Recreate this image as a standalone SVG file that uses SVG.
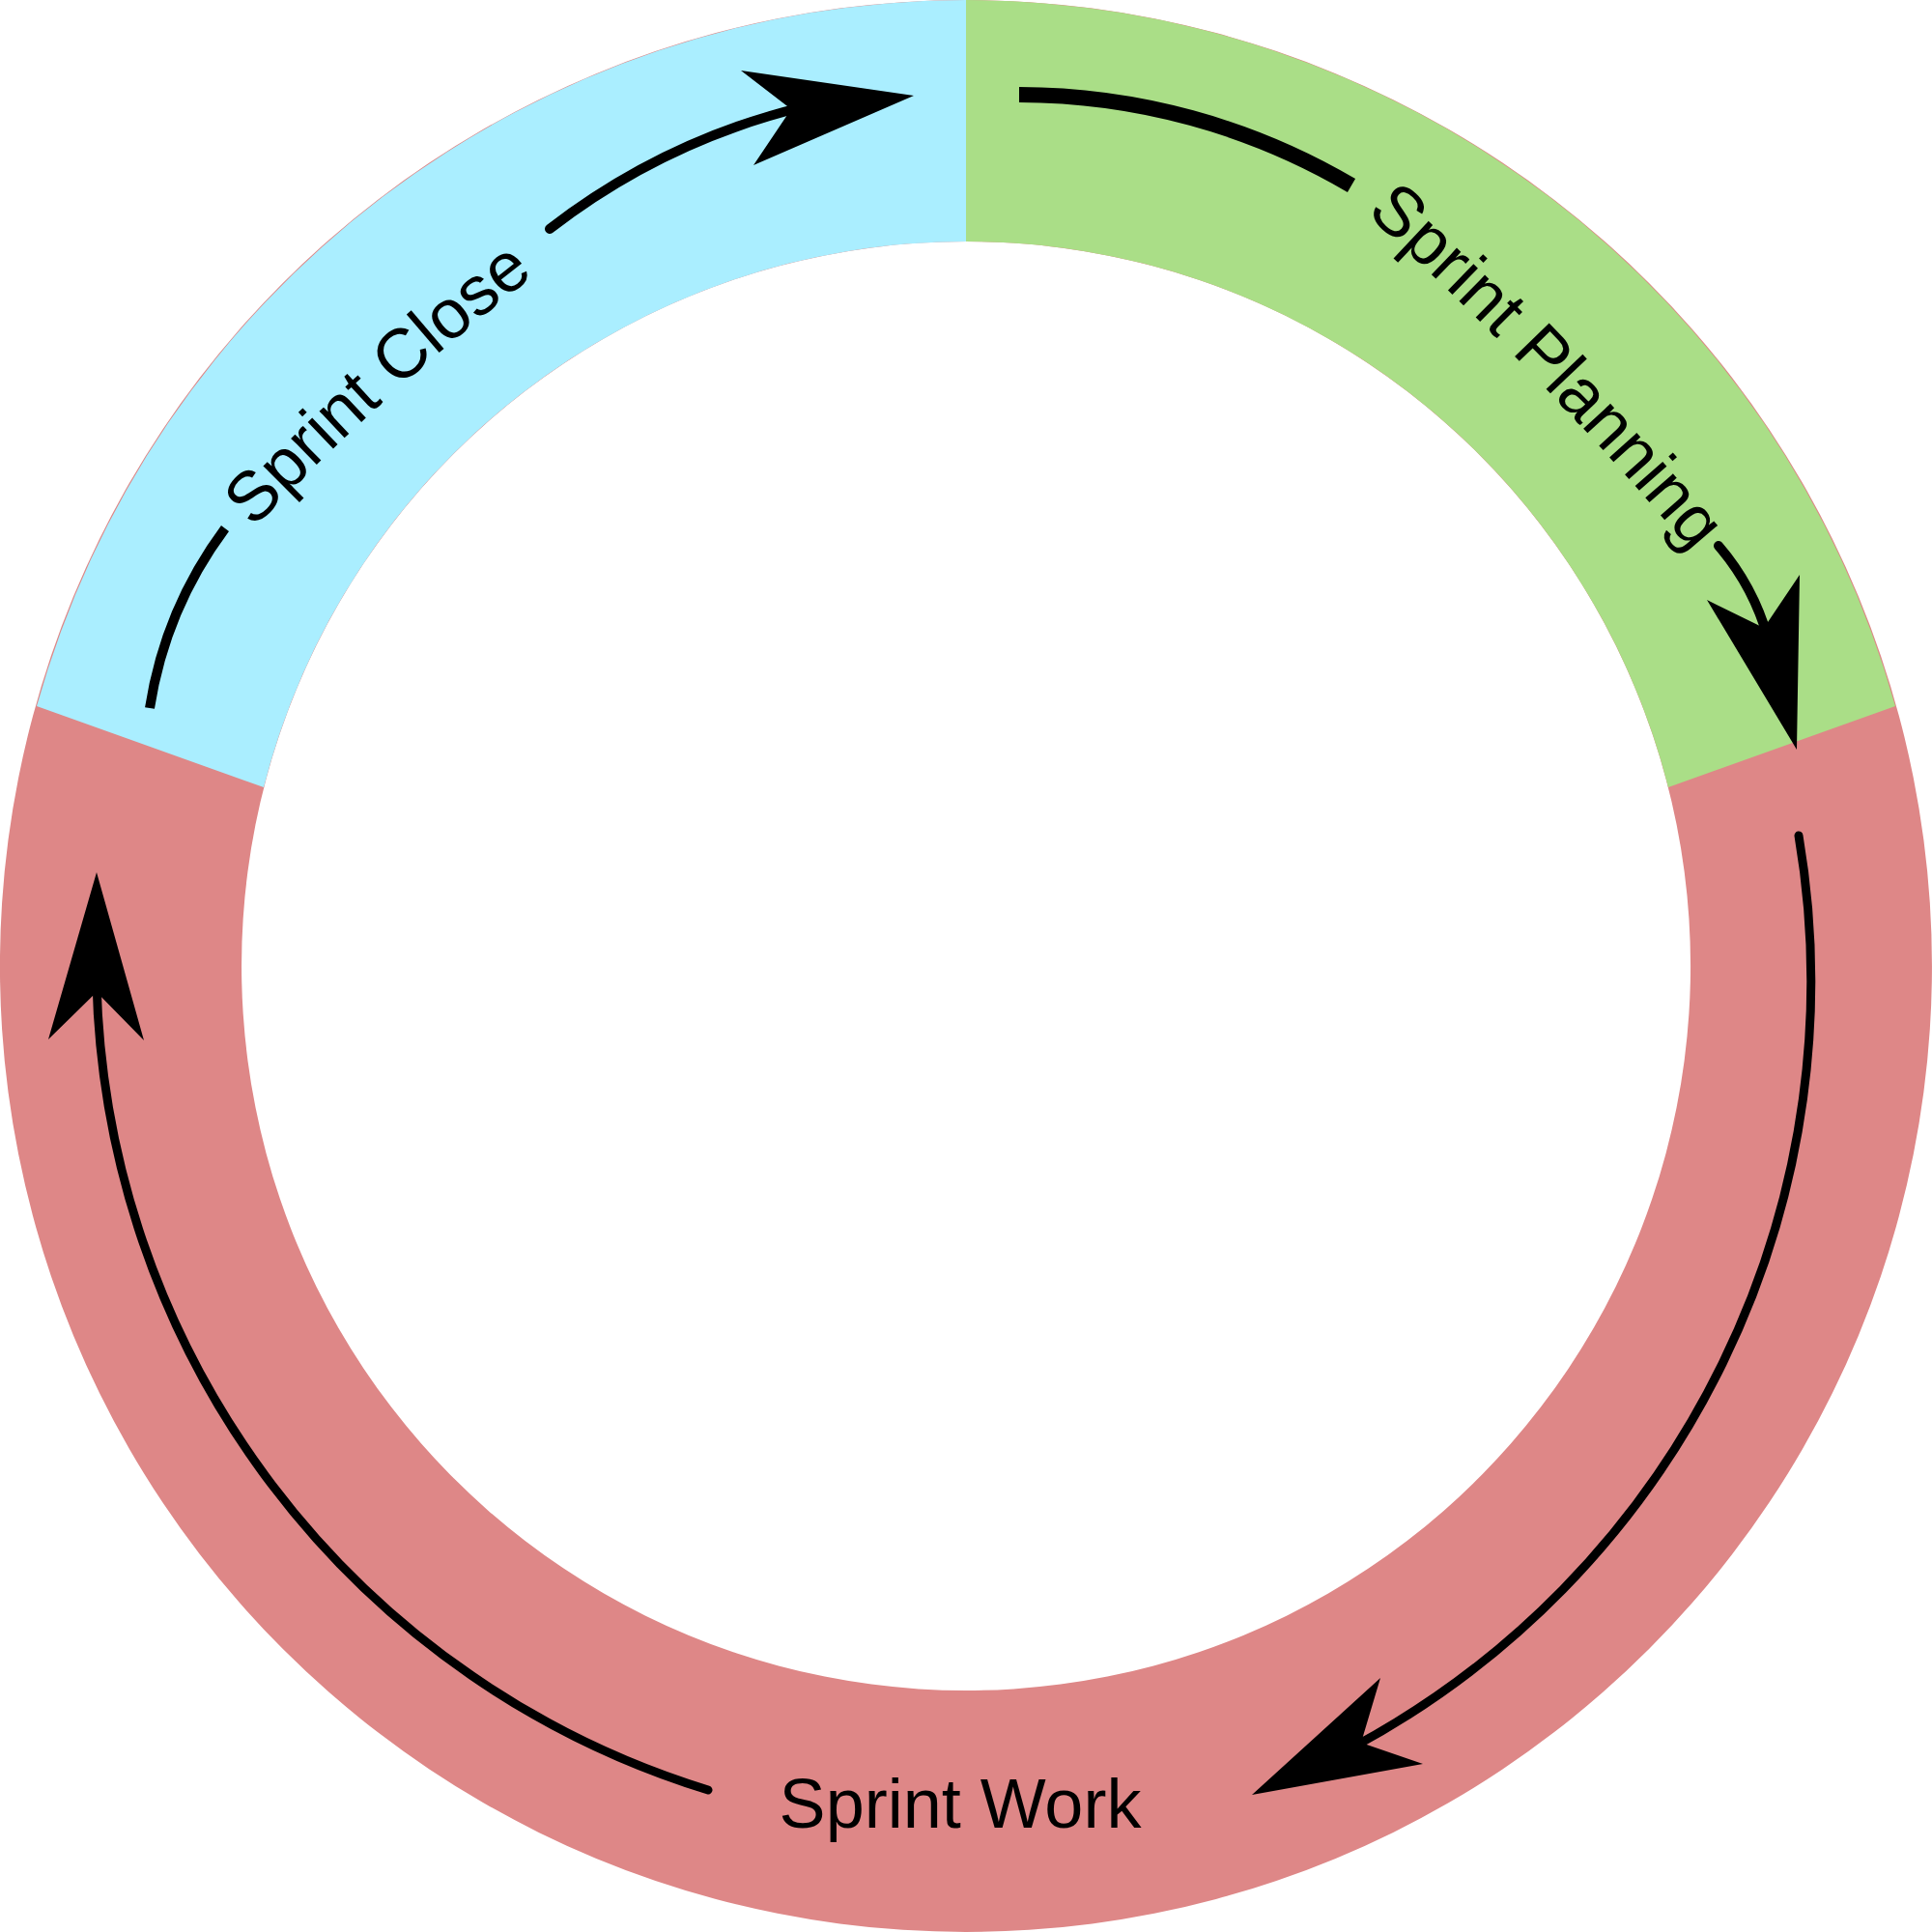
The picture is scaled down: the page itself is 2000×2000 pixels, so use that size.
<svg xmlns="http://www.w3.org/2000/svg" xmlns:xlink="http://www.w3.org/1999/xlink" width="2000" height="2000" viewBox="0 0 2000 2000">
  <style>
    .label { font-family: "Liberation Sans", Arial, sans-serif; font-size: 72px; fill: #000000; }
    .line { fill: none; stroke: #000000; }
    .head { fill: #000000; stroke: none; }
  </style>
  <defs>
    <path id="closePath" d="M 264 546 Q 398 405 552 286"/>
    <path id="planPath" d="M 1414 221 Q 1595 385 1752 572"/>
  </defs>
  <rect x="0" y="0" width="2000" height="2000" fill="#ffffff"/>

  <g id="sprint-work">
    <path d="M 1000 0 A 1000 1000 0 1 1 999.9 0 Z M 1000 250 A 750 750 0 1 0 1000.1 250 Z" fill="#de8787" fill-rule="evenodd"/>
    <text class="label" x="994" y="1892" text-anchor="middle">Sprint Work</text>
  </g>

  <g id="sprint-close">
    <path d="M 38 731 A 1000 1000 0 0 1 1000 0 L 1000 250 A 750 750 0 0 0 273 815 Z" fill="#aaeeff"/>
    <text class="label"><textPath xlink:href="#closePath" href="#closePath" startOffset="50%" text-anchor="middle">Sprint Close</textPath></text>
  </g>

  <g id="sprint-planning">
    <path d="M 1000 0 A 1000 1000 0 0 1 1962 731 L 1727 815 A 750 750 0 0 0 1000 250 Z" fill="#aade87"/>
    <text class="label"><textPath xlink:href="#planPath" href="#planPath" startOffset="50%" text-anchor="middle">Sprint Planning</textPath></text>
  </g>

  <g id="connectors">
    <!-- Sprint Close arrow -->
    <path class="line" d="M 155 733 A 420 420 0 0 1 233 547" stroke-width="10" stroke-linecap="butt"/>
    <path class="line" d="M 569 237 A 700 700 0 0 1 830 111" stroke-width="10" stroke-linecap="round"/>
    <polygon class="head" points="946,99 767,73 819,113 780,171"/>

    <!-- Sprint Planning arrow -->
    <path class="line" d="M 1055 98 A 680 680 0 0 1 1399 192" stroke-width="16" stroke-linecap="butt"/>
    <path class="line" d="M 1779 565 A 250 250 0 0 1 1830 660" stroke-width="10" stroke-linecap="round"/>
    <polygon class="head" points="1860,776 1767,621 1826,650 1863,595"/>

    <!-- Sprint Work arrow (right) -->
    <path class="line" d="M 1862 865 A 900 900 0 0 1 1400 1809" stroke-width="9" stroke-linecap="round"/>
    <polygon class="head" points="1296,1858 1429,1737 1409,1804 1473,1826"/>

    <!-- Sprint Work arrow (left) -->
    <path class="line" d="M 733 1853 A 897 897 0 0 1 100 1017" stroke-width="9" stroke-linecap="round"/>
    <polygon class="head" points="100,903 50,1076 100,1027 149,1077"/>
  </g>
</svg>
